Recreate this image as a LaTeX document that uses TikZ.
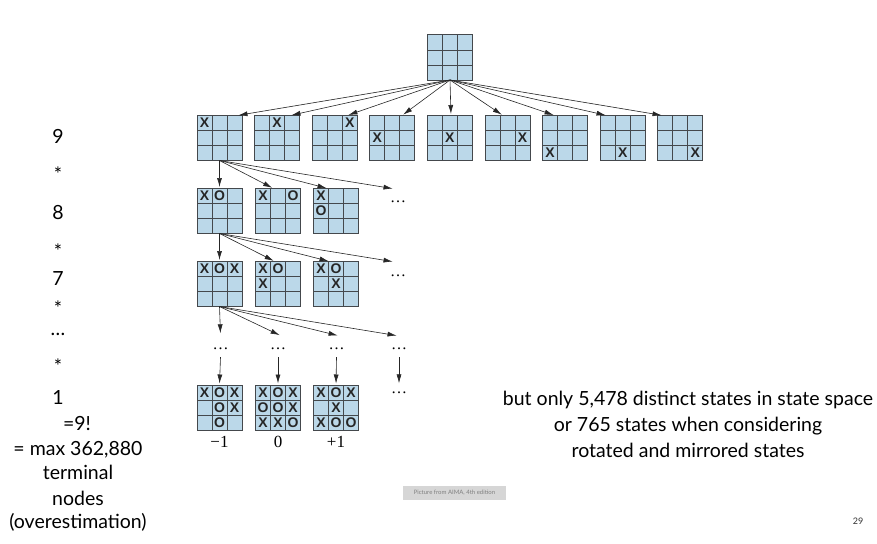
\documentclass[tikz,border=0pt]{standalone}
\usepackage{fontspec}
\setmainfont{Lato}
\newfontfamily\serifnum{Liberation Serif}
\newfontfamily\markfont{Liberation Sans}
\usetikzlibrary{positioning, calc, arrows.meta}
\definecolor{BoardBlue}{RGB}{187, 216, 233}
\definecolor{GridGray}{RGB}{68, 72, 76}
\definecolor{CaptionGray}{RGB}{214, 214, 214}

% empty 3x3 board as a named node plus its inner lines
\newcommand{\tttboard}[2]{%
  \node[boardbox] (#1) at (#2) {};
  \foreach \k in {15,30} {
    \draw[gridline] ($(#1.north west)+(\k,0)$) -- ++(0,45);
    \draw[gridline] ($(#1.north west)+(0,\k)$) -- ++(45,0);
  }
}
% marks as col/row/symbol
\newcommand{\tttmarks}[2]{%
  \foreach \c/\r/\m in {#2} {
    \node[cellmark] (#1-\c\r) at ($(#1.north west)+(\c*15+7.5,\r*15+7.5)$) {\m};
  }
}

\begin{document}
\begin{tikzpicture}[x=1pt, y=-1pt,
    boardbox/.style={draw=GridGray, fill=BoardBlue, line width=1pt,
                     minimum size=45pt, inner sep=0pt, outer sep=0pt},
    gridline/.style={GridGray, line width=0.9pt},
    cellmark/.style={font=\markfont\bfseries\fontsize{14}{14}\selectfont,
                     text=black!85, inner sep=0pt},
    treearrow/.style={draw=black!85, line width=0.6pt,
                      -{Latex[length=9pt,width=5pt]}, shorten >=1.5pt},
    dotsnode/.style={font=\serifnum\fontsize{16}{16}\selectfont,
                     inner sep=0pt, minimum height=16pt},
    score/.style={font=\serifnum\fontsize{17}{17}\selectfont, inner sep=0pt},
    lefttext/.style={font=\fontsize{19.5}{19.5}\selectfont, anchor=base},
    righttext/.style={font=\fontsize{19.5}{19.5}\selectfont, anchor=base},
    caption/.style={fill=CaptionGray, text=black!50, font=\fontsize{6}{6}\selectfont,
                    minimum width=103pt, minimum height=14pt, inner sep=0pt}]
  \useasboundingbox (0,0) rectangle (877,543);

  % root and first ply
  \tttboard{root}{450,57.5}
  \foreach \i in {1,...,9} {
    \pgfmathsetmacro\bx{219.5+57.6*(\i-1)}
    \pgfmathtruncatemacro\col{mod(\i-1,3)}
    \pgfmathtruncatemacro\row{div(\i-1,3)}
    \tttboard{a\i}{\bx,138}
    \tttmarks{a\i}{\col/\row/X}
  }
  \foreach \i/\dx in {1/17.5, 2/12.9, 3/12.3, 4/9.7, 5/1.1,
                      6/-4.5, 7/-10.1, 8/-15.7, 9/-17.3} {
    \draw[treearrow] (root.south) -- ([xshift=\dx pt]a\i.north);
  }

  % second ply
  \tttboard{b1}{219.5,211}  \tttmarks{b1}{0/0/X, 1/0/O}
  \tttboard{b2}{278,211}    \tttmarks{b2}{0/0/X, 2/0/O}
  \tttboard{b3}{336,211}    \tttmarks{b3}{0/0/X, 0/1/O}
  \node[dotsnode] (bdots) at (398,202) {…};
  \draw[treearrow] (a1.south) -- (b1.north);
  \draw[treearrow] (a1.south) -- ([xshift=-4.5pt]b2.north);
  \draw[treearrow] (a1.south) -- ([xshift=-8pt]b3.north);
  \draw[treearrow] (a1.south) -- ([xshift=-4pt, yshift=5pt]bdots.north);

  % third ply
  \tttboard{c1}{219.5,284}  \tttmarks{c1}{0/0/X, 1/0/O, 2/0/X}
  \tttboard{c2}{278,284}    \tttmarks{c2}{0/0/X, 1/0/O, 0/1/X}
  \tttboard{c3}{336,284}    \tttmarks{c3}{0/0/X, 1/0/O, 1/1/X}
  \node[dotsnode] (cdots) at (398,276) {…};
  \draw[treearrow] (b1.south) -- (c1.north);
  \draw[treearrow] (b1.south) -- ([xshift=-3pt]c2.north);
  \draw[treearrow] (b1.south) -- ([xshift=-6pt]c3.north);
  \draw[treearrow] (b1.south) -- ([xshift=-4pt, yshift=6pt]cdots.north);

  % deeper plies
  \node[dotsnode] (e1) at (220.5,349) {…};
  \node[dotsnode] (e2) at (278,349) {…};
  \node[dotsnode] (e3) at (336.5,349) {…};
  \node[dotsnode] (e4) at (399,349) {…};
  \draw[treearrow] (c1.south) -- ([yshift=6pt]e1.north);
  \draw[treearrow] (c1.south) -- ([xshift=3pt, yshift=5pt]e2.north);
  \draw[treearrow] (c1.south) -- ([xshift=2.5pt, yshift=5pt]e3.north);
  \draw[treearrow] (c1.south) -- ([xshift=-1pt, yshift=5pt]e4.north);

  % terminal states
  \tttboard{d1}{219.5,407.5} \tttmarks{d1}{0/0/X, 1/0/O, 2/0/X, 1/1/O, 2/1/X, 1/2/O}
  \tttboard{d2}{278,407.5}   \tttmarks{d2}{0/0/X, 1/0/O, 2/0/X, 0/1/O, 1/1/O, 2/1/X, 0/2/X, 1/2/X, 2/2/O}
  \tttboard{d3}{336,407.5}   \tttmarks{d3}{0/0/X, 1/0/O, 2/0/X, 1/1/X, 0/2/X, 1/2/O, 2/2/O}
  \node[dotsnode] (f4) at (399,393) {…};
  \foreach \i in {1,2,3} {
    \draw[treearrow] (e\i.south) -- (d\i.north);
  }
  \draw[treearrow] (e4.south) -- (f4.north);
  \node[score, below=6pt of d1] (s1) {−1};
  \node[score, below=6pt of d2] (s2) {0};
  \node[score, below=6pt of d3] (s3) {+1};

  % branching count on the left
  \node[lefttext] (n9) at (58,143) {9};
  \node[lefttext] (t1) at (58,181) {*};
  \node[lefttext] (n8) at (58,219) {8};
  \node[lefttext] (t2) at (58,258) {*};
  \node[lefttext] (n7) at (58,285) {7};
  \node[lefttext] (t3) at (58,315) {*};
  \node[lefttext] (ndots) at (58,335) {…};
  \node[lefttext] (t4) at (58,373) {*};
  \node[lefttext] (n1) at (58,404) {1};
  \node[lefttext] (fac) at (77,430) {=9!};
  \node[lefttext] (maxn) at (78,455) {= max 362,880};
  \node[lefttext] (term) at (78,479) {terminal};
  \node[lefttext] (nds) at (78,505) {nodes};
  \node[lefttext] (over) at (78,528) {(overestimation)};

  % remark on the right
  \node[righttext] (r1) at (688,405) {but only 5,478 distinct states in state space};
  \node[righttext] (r2) at (688,431) {or 765 states when considering};
  \node[righttext] (r3) at (688,457) {rotated and mirrored states};

  \node[caption] (src) at (454.5,493) {Picture from AIMA, 4th edition};
  \node[font=\fontsize{9}{9}\selectfont, text=black!80, anchor=base] (page) at (858,524) {29};
\end{tikzpicture}
\end{document}
